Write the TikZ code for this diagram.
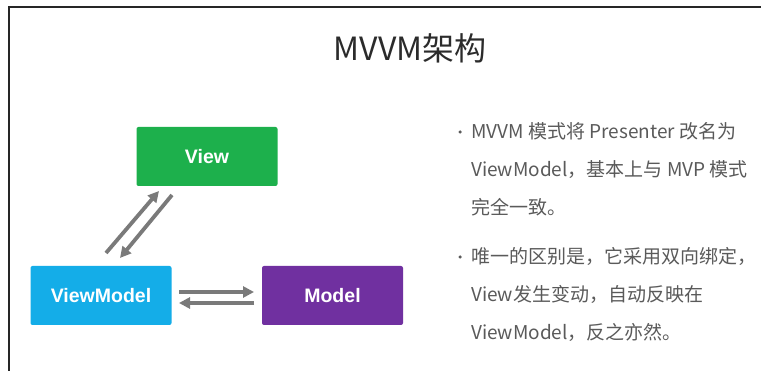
\documentclass[tikz,border=0pt]{standalone}
\usepackage{fontspec}
\setmainfont{Liberation Sans}
\newfontfamily\cjk{Noto Sans CJK SC}
\usetikzlibrary{arrows.meta}
\definecolor{viewgreen}{HTML}{1DB04C}
\definecolor{vmblue}{HTML}{14ADE8}
\definecolor{modelpurple}{HTML}{7030A0}
\definecolor{arrowgray}{HTML}{7A7A7A}
\definecolor{bodygray}{HTML}{5A5A5A}
\definecolor{titlegray}{HTML}{2B2B2B}
\tikzset{
  box/.style={draw=none, minimum width=141pt, minimum height=59pt, rounded corners=2pt,
    text=white, font=\fontsize{19.5}{22}\selectfont\bfseries, inner sep=0pt},
  link/.style={draw=arrowgray, line width=3.8pt,
    -{Triangle[length=11pt,width=11pt]}},
  bodytext/.style={anchor=base west, text=bodygray, font=\cjk\fontsize{19}{22}\selectfont, inner sep=0pt},
  bulletdot/.style={circle, fill=bodygray, inner sep=0pt, minimum size=3.5pt}
}
\begin{document}
\begin{tikzpicture}[x=1pt, y=-1pt]
  \useasboundingbox (0,0) rectangle (761,371);
  \fill[white] (0,0) rectangle (761,371);
  % frame lines on the left and top
  \draw[line width=2pt, black!85] (8.5,371) -- (8.5,7.5) -- (761,7.5);

  % title
  \node[text=titlegray, font=\cjk\fontsize{32}{36}\selectfont, inner sep=0pt] (title) at (410,48) {MVVM架构};

  % the three components
  \node[box, fill=viewgreen] (view) at (207,156.5) {View};
  \node[box, fill=vmblue] (vm) at (101,295.5) {ViewModel};
  \node[box, fill=modelpurple] (model) at (332.5,295.5) {Model};

  % bindings between the components
  \coordinate (a1s) at (106,253);
  \coordinate (a1e) at (159,191);
  \coordinate (a2s) at (172,195);
  \coordinate (a2e) at (120,258);
  \draw[link] (a1s) -- (a1e);
  \draw[link] (a2s) -- (a2e);
  \coordinate (h1s) at (179,292);
  \coordinate (h1e) at (254,292);
  \coordinate (h2s) at (254,303);
  \coordinate (h2e) at (179,303);
  \draw[link] (h1s) -- (h1e);
  \draw[link] (h2s) -- (h2e);

  % explanatory bullets
  \node[bulletdot] (b1) at (460,132) {};
  \node[bodytext] (t1) at (471,139) {MVVM 模式将 Presenter 改名为};
  \node[bodytext] (t2) at (471,177) {ViewModel，基本上与 MVP 模式};
  \node[bodytext] (t3) at (471,215) {完全一致。};
  \node[bulletdot] (b2) at (460,257) {};
  \node[bodytext] (t4) at (471,264) {唯一的区别是，它采用双向绑定，};
  \node[bodytext] (t5) at (471,302) {View发生变动，自动反映在};
  \node[bodytext] (t6) at (471,340) {ViewModel，反之亦然。};
\end{tikzpicture}
\end{document}
